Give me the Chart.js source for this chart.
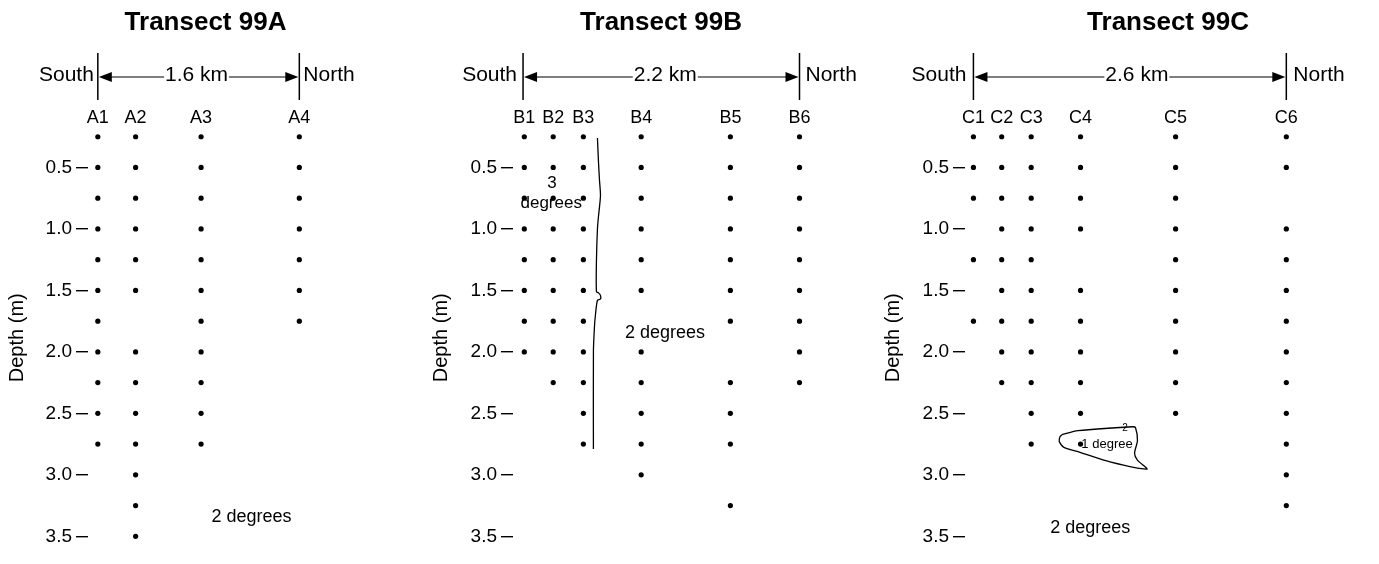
<!DOCTYPE html>
<html><head><meta charset="utf-8">
<script src="https://cdn.jsdelivr.net/npm/chart.js@4.4.1/dist/chart.umd.min.js"></script>
<style>
html,body{margin:0;padding:0;background:#fff;overflow:hidden;width:1379px;height:564px;}
canvas{position:absolute;top:0;}
</style></head><body>
<canvas id="cA" width="411" height="564" style="left:0px"></canvas>
<canvas id="cB" width="474" height="564" style="left:424px"></canvas>
<canvas id="cC" width="584" height="564" style="left:876px"></canvas>
<script>
// ---------- data ----------
const depthTicks = [0.5, 1.0, 1.5, 2.0, 2.5, 3.0, 3.5];
const depthTitle = 'Depth (m)';

const titleA = 'Transect 99A';
const spanLabelA = '1.6 km';
const spanA = 1.6;
const stationsA = ['A1', 'A2', 'A3', 'A4'];
const distA = [0, 0.30, 0.82, 1.6];
const depthsA = [
  [0.25, 0.5, 0.75, 1.0, 1.25, 1.5, 1.75, 2.0, 2.25, 2.5, 2.75],
  [0.25, 0.5, 0.75, 1.0, 1.25, 1.5, 2.0, 2.25, 2.5, 2.75, 3.0, 3.25, 3.5],
  [0.25, 0.5, 0.75, 1.0, 1.25, 1.5, 1.75, 2.0, 2.25, 2.5, 2.75],
  [0.25, 0.5, 0.75, 1.0, 1.25, 1.5, 1.75]
];
const notesA = [{text: '2 degrees', x: 1.22, y: 3.34, size: 18}];

const titleB = 'Transect 99B';
const spanLabelB = '2.2 km';
const spanB = 2.2;
const stationsB = ['B1', 'B2', 'B3', 'B4', 'B5', 'B6'];
const distB = [0.01, 0.24, 0.48, 0.94, 1.65, 2.2];
const depthsB = [
  [0.25, 0.5, 0.75, 1.0, 1.25, 1.5, 1.75, 2.0],
  [0.25, 0.5, 0.75, 1.0, 1.25, 1.5, 1.75, 2.0, 2.25],
  [0.25, 0.5, 0.75, 1.0, 1.25, 1.5, 1.75, 2.0, 2.25, 2.5, 2.75],
  [0.25, 0.5, 0.75, 1.0, 1.25, 1.5, 2.0, 2.25, 2.5, 2.75, 3.0],
  [0.25, 0.5, 0.75, 1.0, 1.25, 1.5, 1.75, 2.25, 2.5, 2.75, 3.25],
  [0.25, 0.5, 0.75, 1.0, 1.25, 1.5, 1.75, 2.0, 2.25]
];
const boundaryBx = [0.592, 0.600, 0.608, 0.616, 0.600, 0.592, 0.584, 0.584, 0.600, 0.616, 0.616, 0.592, 0.576, 0.568, 0.560, 0.560];
const boundaryBy = [0.26, 0.45, 0.60, 0.73, 0.90, 1.00, 1.26, 1.51, 1.52, 1.54, 1.57, 1.58, 1.70, 1.80, 2.00, 2.79];
const notesB = [
  {text: '3', x: 0.23, y: 0.63, size: 17},
  {text: 'degrees', x: 0.224, y: 0.79, size: 17},
  {text: '2 degrees', x: 1.13, y: 1.85, size: 18}
];

const titleC = 'Transect 99C';
const spanLabelC = '2.6 km';
const spanC = 2.6;
const stationsC = ['C1', 'C2', 'C3', 'C4', 'C5', 'C6'];
const distC = [0, 0.235, 0.48, 0.89, 1.68, 2.6];
const depthsC = [
  [0.25, 0.5, 0.75, 1.25, 1.75],
  [0.25, 0.5, 0.75, 1.0, 1.25, 1.5, 1.75, 2.0, 2.25],
  [0.25, 0.5, 0.75, 1.0, 1.25, 1.5, 1.75, 2.0, 2.25, 2.5, 2.75],
  [0.25, 0.5, 0.75, 1.0, 1.5, 1.75, 2.0, 2.25, 2.5, 2.75],
  [0.25, 0.5, 0.75, 1.0, 1.25, 1.5, 1.75, 2.0, 2.25, 2.5],
  [0.25, 0.5, 1.0, 1.25, 1.5, 1.75, 2.0, 2.25, 2.5, 2.75, 3.0, 3.25]
];
const balloonCx = [0.736, 0.869, 1.323, 1.347, 1.363, 1.339, 1.363, 1.441, 1.143, 0.885, 0.752, 0.713, 0.720, 0.736];
const balloonCy = [2.673, 2.641, 2.609, 2.617, 2.721, 2.825, 2.881, 2.953, 2.897, 2.817, 2.777, 2.729, 2.689, 2.673];
const notesC = [
  {text: '1 degree', x: 1.11, y: 2.75, size: 13},
  {text: '2', x: 1.26, y: 2.62, size: 10},
  {text: '2 degrees', x: 0.97, y: 3.43, size: 18}
];

// ---------- drawing ----------
const FONT = '"Liberation Sans", Arial, Helvetica, sans-serif';
Chart.defaults.font.family = FONT;
Chart.defaults.color = '#000';

const headerPlugin = {
  id: 'header',
  afterDraw(chart, args, opts) {
    const ctx = chart.ctx;
    const xs = chart.scales.x, ys = chart.scales.y;
    const x0 = xs.getPixelForValue(0), x1 = xs.getPixelForValue(opts.span);
    const yt = 75, ya = 77;
    ctx.save();
    ctx.strokeStyle = '#000'; ctx.fillStyle = '#000';
    ctx.lineWidth = 1.5;
    ctx.beginPath();
    ctx.moveTo(x0, 53); ctx.lineTo(x0, 100);
    ctx.moveTo(x1, 53); ctx.lineTo(x1, 100);
    ctx.stroke();
    ctx.font = '21px ' + FONT;
    ctx.textBaseline = 'middle';
    ctx.textAlign = 'right'; ctx.fillText('South', x0 - opts.gap, yt);
    ctx.textAlign = 'left'; ctx.fillText('North', x1 + opts.gap, yt);
    ctx.textAlign = 'center';
    const mid = (x0 + x1) / 2 + opts.labelShift;
    const w = ctx.measureText(opts.label).width;
    ctx.fillText(opts.label, mid, yt);
    ctx.lineWidth = 1.2;
    ctx.beginPath();
    ctx.moveTo(x0 + 10, ya); ctx.lineTo(mid - w / 2 - 1, ya);
    ctx.moveTo(mid + w / 2 + 1, ya); ctx.lineTo(x1 - 10, ya);
    ctx.stroke();
    ctx.beginPath();
    ctx.moveTo(x0 + 1, ya); ctx.lineTo(x0 + 14, ya - 5); ctx.lineTo(x0 + 14, ya + 5); ctx.closePath(); ctx.fill();
    ctx.beginPath();
    ctx.moveTo(x1 - 1, ya); ctx.lineTo(x1 - 14, ya - 5); ctx.lineTo(x1 - 14, ya + 5); ctx.closePath(); ctx.fill();
    for (const n of opts.notes) {
      ctx.font = n.size + 'px ' + FONT;
      ctx.textAlign = 'center'; ctx.textBaseline = 'middle';
      ctx.fillText(n.text, xs.getPixelForValue(n.x), ys.getPixelForValue(n.y));
    }
    ctx.restore();
  }
};

function makeChart(id, title, stations, dist, depths, span, spanLabel, notes, extraX, extraY, lay) {
  const pts = [];
  dist.forEach((d, i) => depths[i].forEach(v => pts.push({x: d, y: v})));
  const datasets = [{
    type: 'scatter', data: pts, pointRadius: 2.6, pointBackgroundColor: '#000',
    pointBorderWidth: 0, pointStyle: 'circle'
  }];
  if (extraX) {
    datasets.push({
      type: 'line', data: extraX.map((x, i) => ({x: x, y: extraY[i]})),
      borderColor: '#000', borderWidth: 1.3, pointRadius: 0, tension: 0.25, fill: false
    });
  }
  return new Chart(document.getElementById(id), {
    type: 'scatter',
    data: {datasets},
    options: {
      responsive: false, animation: false, devicePixelRatio: 1,
      layout: {padding: {top: 0, left: 0, right: 0, bottom: 9.4}},
      plugins: {
        legend: {display: false}, tooltip: {enabled: false},
        title: {display: true, text: title, font: {size: 26, weight: 'bold'}, padding: {top: 7, bottom: 0}, color: '#000'},
        header: {span: span, label: spanLabel, notes: notes, gap: lay.gap, labelShift: lay.labelShift}
      },
      scales: {
        x: {
          type: 'linear', position: 'top', min: lay.xmin, max: lay.xmax,
          afterBuildTicks: s => { s.ticks = dist.map(v => ({value: v})); },
          afterFit: s => { s.height = 88.7; },
          grid: {display: false, drawTicks: false}, border: {display: false},
          ticks: {autoSkip: false, maxRotation: 0, minRotation: 0, padding: 0,
                  font: {size: 18, lineHeight: 1.0},
                  callback: (v, i) => stations[i]}
        },
        y: {
          type: 'linear', reverse: true, min: 0.17, max: 3.6,
          afterBuildTicks: s => { s.ticks = depthTicks.map(v => ({value: v})); },
          afterFit: s => { s.width = lay.yw; },
          border: {display: false},
          grid: {display: true, drawOnChartArea: false, drawTicks: true, tickLength: 12, color: '#000', lineWidth: 1.4},
          ticks: {padding: 4, font: {size: 19}, callback: v => v.toFixed(1)},
          title: {display: true, text: depthTitle, font: {size: 20}, padding: {top: 5, bottom: 0}}
        }
      }
    },
    plugins: [headerPlugin]
  });
}

makeChart('cA', titleA, stationsA, distA, depthsA, spanA, spanLabelA, notesA, null, null,
  {yw: 88, xmin: -0.078, xmax: 2.455, gap: 4, labelShift: -2});
makeChart('cB', titleB, stationsB, distB, depthsB, spanB, spanLabelB, notesB, boundaryBx, boundaryBy,
  {yw: 89, xmin: -0.08, xmax: 2.952, gap: 6, labelShift: 4});
makeChart('cC', titleC, stationsC, distC, depthsC, spanC, spanLabelC, notesC, balloonCx, balloonCy,
  {yw: 89, xmin: -0.07, xmax: 4.01, gap: 7, labelShift: 7});
</script>
</body></html>
